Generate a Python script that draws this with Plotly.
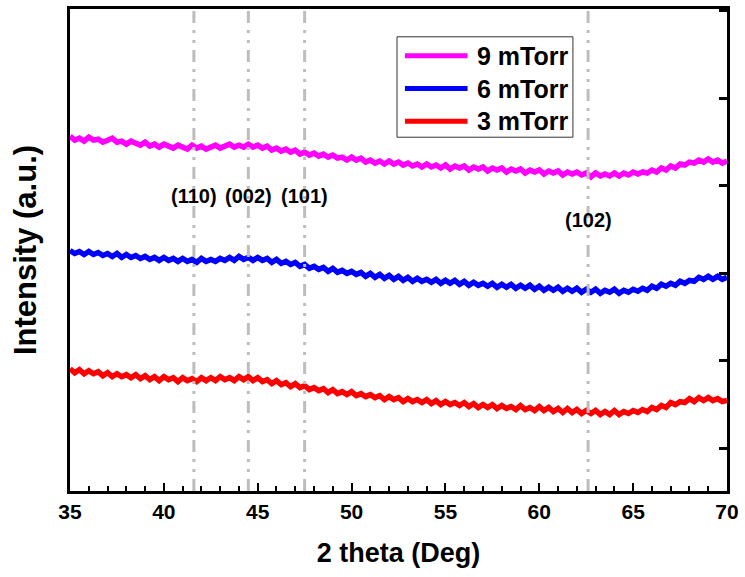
import plotly.graph_objects as go

# ---------------- data ----------------
two_theta = [35.0 + 0.25 * i for i in range(141)]

i_9mtorr = [
    357, 353, 355, 352, 356, 353, 354, 351, 353, 355, 351, 352, 349, 352, 350, 348,
    351, 347, 349, 346, 349, 347, 345, 348, 346, 344, 348, 345, 347, 344, 346, 348,
    345, 347, 349, 346, 348, 346, 349, 346, 348, 345, 347, 343, 345, 342, 344, 341,
    343, 339, 341, 338, 340, 337, 339, 336, 338, 335, 336, 333, 336, 333, 335, 331,
    333, 330, 332, 329, 332, 329, 331, 328, 330, 327, 329, 326, 329, 326, 328, 325,
    328, 324, 327, 325, 327, 323, 326, 324, 326, 322, 325, 323, 325, 321, 324, 322,
    324, 320, 323, 321, 323, 319, 322, 320, 322, 318, 321, 319, 321, 318, 320, 316,
    320, 317, 319, 317, 320, 317, 320, 318, 321, 319, 321, 320, 323, 321, 325, 323,
    327, 325, 329, 328, 331, 330, 333, 331, 334, 331, 333, 330, 332]

i_6mtorr = [
    242, 239, 241, 238, 241, 238, 240, 237, 239, 236, 239, 235, 238, 235, 237, 234,
    236, 233, 235, 232, 235, 232, 234, 231, 234, 231, 233, 230, 234, 231, 233, 231,
    234, 232, 235, 232, 236, 233, 235, 232, 235, 232, 234, 230, 233, 229, 231, 228,
    230, 226, 228, 224, 226, 223, 225, 221, 224, 220, 222, 219, 221, 218, 220, 216,
    219, 215, 218, 214, 217, 213, 216, 212, 215, 211, 214, 211, 213, 210, 213, 209,
    212, 209, 212, 208, 211, 207, 210, 207, 209, 206, 209, 205, 208, 205, 208, 204,
    207, 204, 207, 203, 206, 202, 205, 202, 205, 201, 204, 201, 204, 200, 203, 200,
    203, 199, 202, 200, 203, 199, 202, 200, 203, 201, 204, 202, 206, 204, 208, 206,
    209, 207, 211, 209, 212, 211, 215, 213, 216, 213, 216, 213, 215]

i_3mtorr = [
    123, 119, 122, 118, 121, 118, 120, 116, 119, 115, 118, 115, 117, 114, 117, 113,
    116, 112, 115, 111, 115, 112, 114, 110, 114, 111, 113, 110, 114, 111, 114, 111,
    115, 112, 114, 111, 115, 112, 115, 111, 114, 110, 112, 108, 111, 107, 109, 105,
    108, 104, 106, 102, 104, 101, 103, 99, 102, 98, 100, 97, 100, 96, 98, 95,
    97, 94, 96, 92, 95, 92, 94, 90, 93, 90, 92, 89, 92, 88, 91, 87,
    90, 87, 89, 86, 89, 85, 88, 84, 87, 84, 87, 83, 86, 83, 85, 82,
    86, 82, 84, 81, 85, 81, 84, 80, 83, 79, 83, 79, 82, 78, 81, 78,
    81, 77, 80, 77, 81, 77, 80, 78, 81, 79, 82, 80, 84, 82, 86, 84,
    89, 87, 90, 89, 93, 90, 94, 91, 94, 91, 93, 90, 91]

series_names = ["9 mTorr", "6 mTorr", "3 mTorr"]
series_colors = ["#ff00ff", "#0000ff", "#ff0000"]
series_values = [i_9mtorr, i_6mtorr, i_3mtorr]

peak_positions = [41.6, 44.5, 47.5, 62.6]
peak_labels = ["(110)", "(002)", "(101)", "(102)"]
peak_label_y = [297, 297, 297, 273]

x_range = [35, 70]
y_range = [0, 485]

FONT = "Arial, Liberation Sans, sans-serif"

fig = go.Figure()
for name, color, vals in zip(series_names, series_colors, series_values):
    fig.add_trace(go.Scatter(x=two_theta, y=vals, mode="lines", name=name,
                             line=dict(color=color, width=5.5), showlegend=False))

# peak reference lines
for p in peak_positions:
    fig.add_shape(type="line", xref="x", yref="paper", x0=p, x1=p, y0=0, y1=1,
                  line=dict(color="#bdbdbd", width=3, dash="12px,7px,3px,7px,3px,7px"),
                  layer="above")

for p, lab, ly in zip(peak_positions, peak_labels, peak_label_y):
    fig.add_annotation(x=p, y=ly, xref="x", yref="y", text=lab, showarrow=False,
                       font=dict(family=FONT, size=20, color="black", weight="bold"))

# manual legend
leg_x0, leg_x1, leg_top, leg_bot = 0.4977, 0.7655, 0.9423, 0.734
fig.add_shape(type="rect", xref="paper", yref="paper", x0=leg_x0, x1=leg_x1,
              y0=leg_bot, y1=leg_top, line=dict(color="#333333", width=1),
              fillcolor="white", layer="above")
leg_rows = [0.9031, 0.835, 0.767]
for name, color, ry in zip(series_names, series_colors, leg_rows):
    fig.add_shape(type="line", xref="paper", yref="paper", x0=0.5098, x1=0.6051,
                  y0=ry, y1=ry, line=dict(color=color, width=5), layer="above")
    fig.add_annotation(x=0.6157, y=ry, xref="paper", yref="paper", text=name,
                       showarrow=False, xanchor="left", yanchor="middle",
                       font=dict(family=FONT, size=25, color="black", weight="bold"))

fig.update_layout(
    width=745, height=577,
    margin=dict(l=70, r=14, t=6, b=86),
    paper_bgcolor="white", plot_bgcolor="white",
    showlegend=False,
    xaxis=dict(range=x_range, dtick=5, tick0=35, ticks="inside", ticklen=8, tickwidth=2,
               tickcolor="black", showline=True, linecolor="black", linewidth=3,
               mirror=True, showgrid=False, zeroline=False,
               minor=dict(dtick=1, ticks="inside", ticklen=5, tickwidth=2, tickcolor="black",
                          showgrid=False),
               tickfont=dict(family=FONT, size=21, color="black", weight="bold"),
               title=dict(text="2 theta (Deg)", standoff=21,
                          font=dict(family=FONT, size=27, color="black", weight="bold"))),
    yaxis=dict(range=y_range, showticklabels=False, ticks="", showline=True,
               linecolor="black", linewidth=3, mirror=True, showgrid=False, zeroline=False,
               title=dict(text="Intensity (a.u.)", standoff=22,
                          font=dict(family=FONT, size=31, color="black", weight="bold"))),
    yaxis2=dict(range=y_range, overlaying="y", side="right", showticklabels=False,
                ticks="inside", ticklen=8, tickwidth=3, tickcolor="black", tick0=43,
                dtick=88, showline=False, showgrid=False, zeroline=False),
)
fig.add_trace(go.Scatter(x=[None], y=[None], yaxis="y2", showlegend=False,
                         hoverinfo="skip"))

fig.write_html("out.html")
